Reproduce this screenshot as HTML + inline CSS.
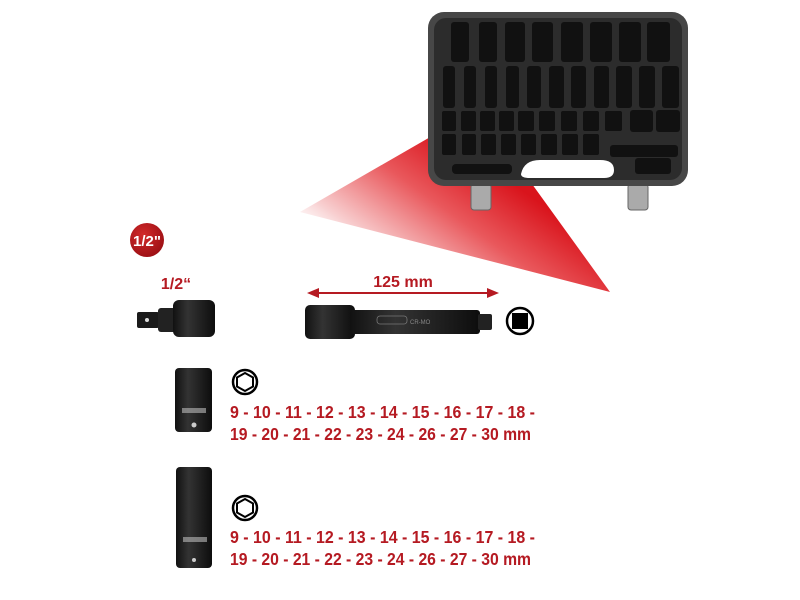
<!DOCTYPE html>
<html><head><meta charset="utf-8"><style>
html,body{margin:0;padding:0;background:#fff;width:800px;height:600px;overflow:hidden}
svg{display:block}
.t{font-family:"Liberation Sans",sans-serif;font-weight:bold;fill:#b51a22}
</style></head><body>
<svg width="800" height="600" viewBox="0 0 800 600" xmlns="http://www.w3.org/2000/svg">
<defs>
<linearGradient id="beam" x1="480" y1="160" x2="380" y2="300" gradientUnits="userSpaceOnUse">
<stop offset="0" stop-color="#d9141c"/><stop offset="0.35" stop-color="#e9585c"/><stop offset="0.75" stop-color="#f8d0d1"/><stop offset="1" stop-color="#fff" stop-opacity="0"/>
</linearGradient>
<radialGradient id="badge" cx="0.4" cy="0.35" r="0.7"><stop offset="0" stop-color="#d22a2a"/><stop offset="1" stop-color="#9b0f14"/></radialGradient>
<linearGradient id="blk" x1="0" y1="0" x2="1" y2="0"><stop offset="0" stop-color="#111"/><stop offset="0.35" stop-color="#333"/><stop offset="1" stop-color="#0d0d0d"/></linearGradient>
</defs>
<polygon points="432,136 300,212 610,292 532,184" fill="url(#beam)"/>
<rect x="471" y="184" width="20" height="26" rx="3" fill="#aaa" stroke="#666"/>
<rect x="628" y="184" width="20" height="26" rx="3" fill="#aaa" stroke="#666"/>
<rect x="428" y="12" width="260" height="174" rx="16" fill="#474747"/>
<rect x="434" y="18" width="248" height="162" rx="12" fill="#2c2c2c"/>
<g fill="#111">
<rect x="451" y="22" width="18" height="40" rx="3"/><rect x="479" y="22" width="18" height="40" rx="3"/><rect x="505" y="22" width="20" height="40" rx="3"/><rect x="532" y="22" width="21" height="40" rx="3"/><rect x="561" y="22" width="22" height="40" rx="3"/><rect x="590" y="22" width="22" height="40" rx="3"/><rect x="619" y="22" width="22" height="40" rx="3"/><rect x="647" y="22" width="23" height="40" rx="3"/>
<rect x="443" y="66" width="12" height="42" rx="3"/><rect x="464" y="66" width="12" height="42" rx="3"/><rect x="485" y="66" width="12" height="42" rx="3"/><rect x="506" y="66" width="13" height="42" rx="3"/><rect x="527" y="66" width="14" height="42" rx="3"/><rect x="549" y="66" width="15" height="42" rx="3"/><rect x="571" y="66" width="15" height="42" rx="3"/><rect x="594" y="66" width="15" height="42" rx="3"/><rect x="616" y="66" width="16" height="42" rx="3"/><rect x="639" y="66" width="16" height="42" rx="3"/><rect x="662" y="66" width="17" height="42" rx="3"/>
<rect x="442" y="111" width="14" height="20" rx="2"/><rect x="461" y="111" width="15" height="20" rx="2"/><rect x="480" y="111" width="15" height="20" rx="2"/><rect x="499" y="111" width="15" height="20" rx="2"/><rect x="518" y="111" width="16" height="20" rx="2"/><rect x="539" y="111" width="16" height="20" rx="2"/><rect x="561" y="111" width="16" height="20" rx="2"/><rect x="583" y="111" width="16" height="20" rx="2"/><rect x="605" y="111" width="17" height="20" rx="2"/><rect x="630" y="110" width="23" height="22" rx="3"/><rect x="656" y="110" width="24" height="22" rx="3"/>
<rect x="442" y="134" width="14" height="21" rx="2"/><rect x="462" y="134" width="14" height="21" rx="2"/><rect x="481" y="134" width="15" height="21" rx="2"/><rect x="501" y="134" width="15" height="21" rx="2"/><rect x="521" y="134" width="15" height="21" rx="2"/><rect x="541" y="134" width="16" height="21" rx="2"/><rect x="562" y="134" width="16" height="21" rx="2"/><rect x="583" y="134" width="16" height="21" rx="2"/>
<rect x="452" y="164" width="60" height="10" rx="4"/>
<rect x="610" y="145" width="68" height="12" rx="3"/><rect x="635" y="158" width="36" height="16" rx="3"/>
</g>
<path d="M521,174 Q524,160 540,160 H600 Q614,160 614,170 Q614,178 604,178 H530 Q521,178 521,174 Z" fill="#fff"/>
<circle cx="147" cy="240" r="17" fill="url(#badge)"/>
<text x="147" y="246" text-anchor="middle" font-family="Liberation Sans,sans-serif" font-weight="bold" font-size="15" fill="#fff">1/2"</text>
<text class="t" x="176" y="289" text-anchor="middle" font-size="16">1/2“</text>
<text class="t" x="403" y="287" text-anchor="middle" font-size="16">125 mm</text>
<line x1="316" y1="293" x2="490" y2="293" stroke="#b51a22" stroke-width="2"/>
<polygon points="307,293 319,288 319,298" fill="#b51a22"/><polygon points="499,293 487,288 487,298" fill="#b51a22"/>
<rect x="137" y="312" width="22" height="16" rx="2" fill="#1a1a1a"/><circle cx="147" cy="320" r="2" fill="#ddd"/>
<rect x="158" y="308" width="18" height="24" rx="3" fill="#222"/>
<rect x="173" y="300" width="42" height="37" rx="6" fill="url(#blk)"/>
<rect x="305" y="305" width="50" height="34" rx="5" fill="url(#blk)"/>
<rect x="350" y="310" width="130" height="24" rx="3" fill="url(#blk)"/>
<rect x="478" y="314" width="14" height="16" rx="2" fill="#222"/>
<rect x="377" y="316" width="30" height="8" rx="3" fill="none" stroke="#777" stroke-width="0.8"/>
<text x="410" y="324" font-family="Liberation Sans,sans-serif" font-size="6" fill="#888">CR-MO</text>
<circle cx="520" cy="321" r="13" fill="#fff" stroke="#000" stroke-width="2.5"/>
<rect x="512" y="313" width="16" height="16" fill="#000"/>
<rect x="175" y="368" width="37" height="64" rx="4" fill="url(#blk)"/>
<rect x="182" y="408" width="24" height="5" fill="#bbb" opacity="0.6"/><circle cx="194" cy="425" r="2.5" fill="#ccc"/>
<rect x="176" y="467" width="36" height="101" rx="4" fill="url(#blk)"/>
<rect x="183" y="537" width="24" height="5" fill="#bbb" opacity="0.6"/><circle cx="194" cy="560" r="2" fill="#ccc"/>
<circle cx="245" cy="382" r="12" fill="#fff" stroke="#000" stroke-width="2.5"/>
<polygon points="245,373 253,377.5 253,386.5 245,391 237,386.5 237,377.5" fill="#fff" stroke="#000" stroke-width="2"/>
<circle cx="245" cy="508" r="12" fill="#fff" stroke="#000" stroke-width="2.5"/>
<polygon points="245,499 253,503.5 253,512.5 245,517 237,512.5 237,503.5" fill="#fff" stroke="#000" stroke-width="2"/>
<g class="t" font-size="17.5">
<text x="230" y="418" textLength="305" lengthAdjust="spacingAndGlyphs">9 - 10 - 11 - 12 - 13 - 14 - 15 - 16 - 17 - 18 -</text>
<text x="230" y="440" textLength="301" lengthAdjust="spacingAndGlyphs">19 - 20 - 21 - 22 - 23 - 24 - 26 - 27 - 30 mm</text>
<text x="230" y="543" textLength="305" lengthAdjust="spacingAndGlyphs">9 - 10 - 11 - 12 - 13 - 14 - 15 - 16 - 17 - 18 -</text>
<text x="230" y="565" textLength="301" lengthAdjust="spacingAndGlyphs">19 - 20 - 21 - 22 - 23 - 24 - 26 - 27 - 30 mm</text>
</g>
</svg>
</body></html>
